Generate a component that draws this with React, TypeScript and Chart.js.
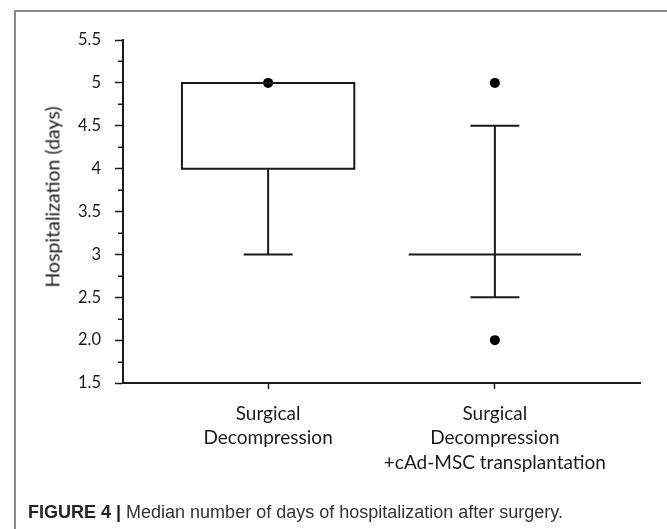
import React, { useEffect, useRef } from 'react';
import { Chart, registerables } from 'chart.js';

Chart.register(...registerables);

// ---- data ----
const categories: string[][] = [
  ['Surgical', 'Decompression'],
  ['Surgical', 'Decompression', '+cAd-MSC transplantation'],
];
const positions = [1, 2];
const boxLow = [4, 3];
const boxHigh = [5, 3];
const medians = [5, 3];
const whiskerLow = [3, 2.5];
const whiskerHigh = [5, 4.5];
const outliers: number[][] = [[5], [5, 2]];
const yTickValues = [1.5, 2, 2.5, 3, 3.5, 4, 4.5, 5, 5.5];
const yTickLabels = ['1.5', '2.0', '2.5', '3', '3.5', '4', '4.5', '5', '5.5'];
const yTitle = 'Hospitalization (days)';
const captionBold = 'FIGURE 4 |';
const captionText = ' Median number of days of hospitalization after surgery.';

// ---- style ----
const INK = '#1a1a1a';
const BOX_HALF = 0.38;
const CAP_HALF = 0.108;
const FONT = 'Lato, "Open Sans", sans-serif';

type P = { x: number; y: number };

function seg(points: P[], extra: any = {}) {
  return {
    type: 'scatter' as const,
    data: points,
    showLine: true,
    borderColor: INK,
    borderWidth: 2,
    pointRadius: 0,
    pointHoverRadius: 0,
    fill: false,
    ...extra,
  };
}

const minorTicks = {
  id: 'minorTicks',
  afterDraw(chart: any) {
    const y = chart.scales.y;
    const ctx = chart.ctx;
    ctx.save();
    ctx.strokeStyle = INK;
    ctx.lineWidth = 1.5;
    for (let i = 0; i < yTickValues.length - 1; i++) {
      const v = (yTickValues[i] + yTickValues[i + 1]) / 2;
      const p = Math.round(y.getPixelForValue(v)) + 0.25;
      ctx.beginPath();
      ctx.moveTo(y.right - 5, p);
      ctx.lineTo(y.right, p);
      ctx.stroke();
    }
    ctx.restore();
  },
};

export default function App() {
  const ref = useRef<HTMLCanvasElement>(null);

  useEffect(() => {
    const datasets: any[] = [];
    positions.forEach((x, i) => {
      if (boxHigh[i] > boxLow[i]) {
        datasets.push(
          seg(
            [
              { x: x - BOX_HALF, y: boxLow[i] },
              { x: x + BOX_HALF, y: boxLow[i] },
              { x: x + BOX_HALF, y: boxHigh[i] },
              { x: x - BOX_HALF, y: boxHigh[i] },
              { x: x - BOX_HALF, y: boxLow[i] },
            ],
            { borderCapStyle: 'square', borderJoinStyle: 'miter' }
          )
        );
      }
      datasets.push(seg([{ x: x - BOX_HALF, y: medians[i] }, { x: x + BOX_HALF, y: medians[i] }]));
      if (whiskerLow[i] < boxLow[i]) {
        datasets.push(seg([{ x, y: whiskerLow[i] }, { x, y: boxLow[i] }]));
      }
      if (whiskerHigh[i] > boxHigh[i]) {
        datasets.push(seg([{ x, y: boxHigh[i] }, { x, y: whiskerHigh[i] }]));
      }
      datasets.push(seg([{ x: x - CAP_HALF, y: whiskerLow[i] }, { x: x + CAP_HALF, y: whiskerLow[i] }]));
      datasets.push(seg([{ x: x - CAP_HALF, y: whiskerHigh[i] }, { x: x + CAP_HALF, y: whiskerHigh[i] }]));
      datasets.push({
        type: 'scatter',
        data: outliers[i].map((v) => ({ x, y: v })),
        pointRadius: 5,
        pointBackgroundColor: '#000',
        pointBorderWidth: 0,
        showLine: false,
      });
    });

    const chart = new Chart(ref.current!, {
      type: 'scatter',
      data: { datasets },
      plugins: [minorTicks],
      options: {
        animation: false,
        responsive: false,
        devicePixelRatio: 1,
        layout: { padding: { left: 0, top: 40, right: 27, bottom: 0 } },
        plugins: { legend: { display: false }, tooltip: { enabled: false }, title: { display: false } },
        scales: {
          x: {
            type: 'linear',
            min: 0.36,
            max: 2.64,
            afterBuildTicks: (scale: any) => {
              scale.ticks = positions.map((v) => ({ value: v }));
            },
            afterFit: (scale: any) => {
              scale.height = 146;
            },
            grid: {
              drawOnChartArea: false,
              drawTicks: true,
              tickLength: 6,
              tickColor: INK,
              tickWidth: 1.5,
            },
            border: { display: true, color: INK, width: 2 },
            ticks: {
              autoSkip: false,
              maxRotation: 0,
              minRotation: 0,
              padding: 12.5,
              color: INK,
              font: { family: FONT, size: 19, lineHeight: 1.29 },
              callback: (_v: any, i: number) => categories[i],
            },
          },
          y: {
            type: 'linear',
            min: 1.5,
            max: 5.5,
            afterBuildTicks: (scale: any) => {
              scale.ticks = yTickValues.map((v) => ({ value: v }));
            },
            afterFit: (scale: any) => {
              scale.width = 123;
            },
            grid: {
              drawOnChartArea: false,
              drawTicks: true,
              tickLength: 8,
              tickColor: INK,
              tickWidth: 1.5,
            },
            border: { display: true, color: INK, width: 2 },
            ticks: {
              padding: 14,
              color: INK,
              font: { family: FONT, size: 16.5 },
              callback: (_v: any, i: number) => yTickLabels[i],
            },
          },
        },
      },
    });
    return () => chart.destroy();
  }, []);

  return (
    <div
      style={{
        position: 'fixed',
        left: 0,
        top: 0,
        width: 667,
        height: 529,
        overflow: 'hidden',
        background: '#fff',
      }}
    >
      <div
        style={{
          position: 'absolute',
          left: 14,
          top: 10,
          width: 700,
          height: 600,
          borderLeft: '2px solid #8a8a8a',
          borderTop: '2px solid #8a8a8a',
        }}
      />
      <canvas ref={ref} width={667} height={529} style={{ position: 'absolute', left: 0, top: 0 }} />
      <div
        style={{
          position: 'absolute',
          left: 52,
          top: 197,
          transform: 'translate(-50%, -50%) rotate(-90deg)',
          whiteSpace: 'nowrap',
          fontFamily: FONT,
          fontSize: 19.5,
          color: INK,
        }}
      >
        {yTitle}
      </div>
      <div
        style={{
          position: 'absolute',
          left: 28,
          top: 502,
          whiteSpace: 'nowrap',
          fontFamily: '"Liberation Sans", Arial, sans-serif',
          fontSize: 18,
          lineHeight: '20px',
          color: '#333',
        }}
      >
        <b style={{ color: '#222' }}>{captionBold}</b>
        {captionText}
      </div>
    </div>
  );
}
